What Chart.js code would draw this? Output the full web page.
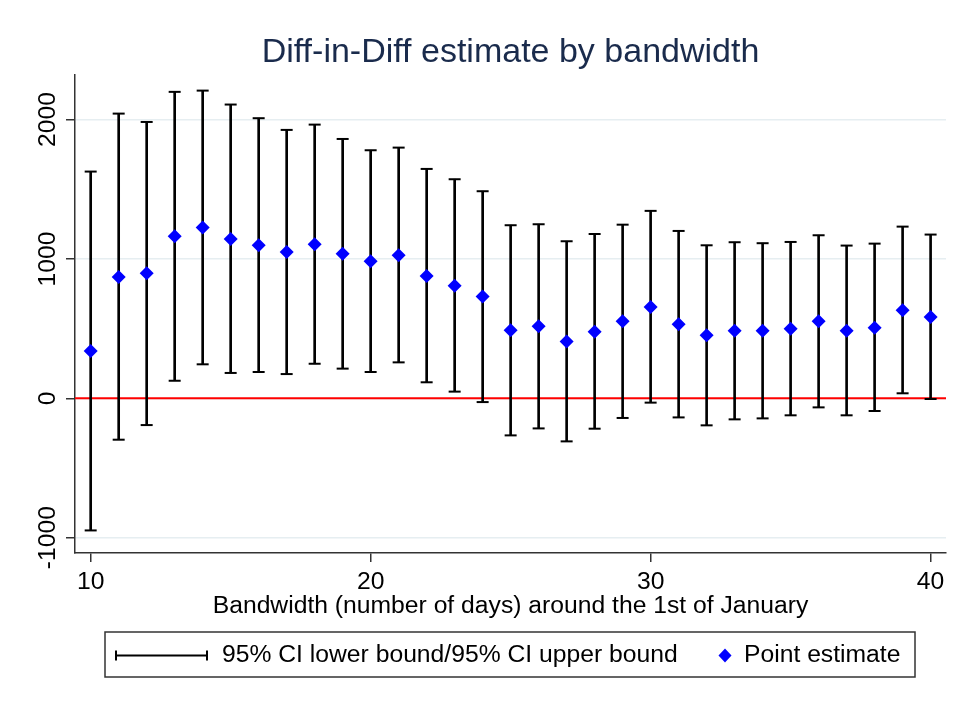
<!DOCTYPE html>
<html>
<head>
<meta charset="utf-8">
<style>
  html, body { margin: 0; padding: 0; background: #ffffff; }
  #wrap { width: 956px; height: 702px; }
</style>
<script src="https://cdn.jsdelivr.net/npm/chart.js@4.4.1/dist/chart.umd.min.js"></script>
</head>
<body>
<div id="wrap"><canvas id="didChart"></canvas></div>
<script>
const bandwidth = [10, 11, 12, 13, 14, 15, 16, 17, 18, 19, 20, 21, 22, 23, 24, 25,
    26, 27, 28, 29, 30, 31, 32, 33, 34, 35, 36, 37, 38, 39, 40];
const estimate = [340, 871, 897, 1163, 1225, 1144, 1098, 1050, 1105, 1038, 983, 1026,
    878, 808, 730, 488, 517, 407, 478, 553, 655, 531, 452, 485, 485, 500, 553, 485, 507, 632, 584];
const ciLower = [-948, -297, -192, 126, 244, 182, 189, 174, 248, 213, 189, 258, 115,
    48, -27, -266, -216, -309, -218, -141, -31, -137, -194, -151, -144, -122, -65, -122, -91, 36, -5];
const ciUpper = [1627, 2043, 1983, 2199, 2208, 2108, 2010, 1926, 1964, 1861, 1780, 1799,
    1646, 1572, 1486, 1242, 1249, 1127, 1179, 1246, 1345, 1201, 1098, 1120, 1113, 1122,
    1170, 1096, 1110, 1232, 1175];
const xTicks = [10, 20, 30, 40];
const yTicks = [-1000, 0, 1000, 2000];
const legendLabels = ['95% CI lower bound/95% CI upper bound', 'Point estimate'];
const titleText = 'Diff-in-Diff estimate by bandwidth';
const xTitleText = 'Bandwidth (number of days) around the 1st of January';

const FONT = '"Liberation Sans", Arial, sans-serif';
const TEXT_SIZE = 24.7;

// red reference line at zero, under the marks
const zeroLine = {
    id: 'zeroLine',
    beforeDatasetsDraw(chart) {
        const { ctx, chartArea, scales } = chart;
        const y0 = scales.y.getPixelForValue(0);
        ctx.save();
        ctx.strokeStyle = '#ff0000';
        ctx.lineWidth = 2;
        ctx.beginPath();
        ctx.moveTo(chartArea.left, y0);
        ctx.lineTo(chartArea.right, y0);
        ctx.stroke();
        ctx.restore();
    }
};

// vertical y tick labels, x axis title and the boxed legend (Stata look)
const stataText = {
    id: 'stataText',
    afterDraw(chart) {
        const { ctx, chartArea, scales } = chart;
        ctx.save();
        ctx.fillStyle = '#000000';
        ctx.font = TEXT_SIZE + 'px ' + FONT;

        ctx.textAlign = 'center';
        ctx.textBaseline = 'alphabetic';
        scales.y.ticks.forEach(t => {
            const py = scales.y.getPixelForValue(t.value);
            ctx.save();
            ctx.translate(chartArea.left - 20, py);
            ctx.rotate(-Math.PI / 2);
            ctx.fillText(String(t.value), 0, 0);
            ctx.restore();
        });

        const cx = (chartArea.left + chartArea.right) / 2;
        ctx.fillText(xTitleText, cx, chartArea.bottom + 60);

        // legend box
        const boxL = 105, boxT = 632, boxW = 810, boxH = 45;
        const midY = boxT + boxH / 2 + 1;
        ctx.strokeStyle = '#333333';
        ctx.lineWidth = 1.5;
        ctx.strokeRect(boxL, boxT, boxW, boxH);

        ctx.strokeStyle = '#000000';
        ctx.lineWidth = 2;
        ctx.beginPath();
        ctx.moveTo(115, midY);
        ctx.lineTo(208, midY);
        ctx.moveTo(116, midY - 5);
        ctx.lineTo(116, midY + 5);
        ctx.moveTo(207, midY - 5);
        ctx.lineTo(207, midY + 5);
        ctx.stroke();

        ctx.textAlign = 'left';
        ctx.textBaseline = 'middle';
        ctx.fillText(legendLabels[0], 222, midY);

        ctx.fillStyle = '#0000ff';
        ctx.beginPath();
        ctx.moveTo(725, midY - 7);
        ctx.lineTo(731.5, midY);
        ctx.lineTo(725, midY + 7);
        ctx.lineTo(718.5, midY);
        ctx.closePath();
        ctx.fill();

        ctx.fillStyle = '#000000';
        ctx.fillText(legendLabels[1], 744, midY);
        ctx.restore();
    }
};

const ctx = document.getElementById('didChart').getContext('2d');
new Chart(ctx, {
    type: 'scatter',
    data: {
        datasets: [{
            type: 'bar',
            label: 'CI',
            data: bandwidth.map((b, i) => ({ x: b, y: [ciLower[i], ciUpper[i]] })),
            backgroundColor: '#000000',
            borderWidth: 0,
            barThickness: 2,
            order: 3
        }, {
            label: 'CI caps',
            data: bandwidth.map((b, i) => ({ x: b, y: ciLower[i] }))
                .concat(bandwidth.map((b, i) => ({ x: b, y: ciUpper[i] }))),
            pointStyle: 'line',
            pointRadius: 6,
            borderColor: '#000000',
            borderWidth: 2,
            order: 2
        }, {
            label: 'Point estimate',
            data: bandwidth.map((b, i) => ({ x: b, y: estimate[i] })),
            pointStyle: 'rectRot',
            pointRadius: 7,
            backgroundColor: '#0000ff',
            borderWidth: 0,
            order: 1
        }]
    },
    options: {
        responsive: true,
        maintainAspectRatio: false,
        animation: false,
        events: [],
        layout: {
            padding: { left: 0, right: 10, top: 0, bottom: 0 }
        },
        plugins: {
            legend: { display: false },
            tooltip: { enabled: false },
            title: {
                display: true,
                fullSize: false,
                text: titleText,
                color: '#1a2b4c',
                font: { family: FONT, size: 34, weight: 'normal' },
                padding: { top: 32.5, bottom: 1.7 }
            }
        },
        scales: {
            x: {
                type: 'linear',
                min: 9.44,
                max: 40.55,
                offset: false,
                afterBuildTicks(scale) {
                    scale.ticks = xTicks.map(v => ({ value: v }));
                },
                afterFit(scale) {
                    scale.height = 149;
                },
                grid: {
                    offset: false,
                    drawOnChartArea: false,
                    tickLength: 9,
                    tickColor: '#333333',
                    lineWidth: 1.5
                },
                border: { display: true, color: '#333333', width: 1.5 },
                ticks: {
                    color: '#000000',
                    padding: 5,
                    font: { family: FONT, size: TEXT_SIZE }
                }
            },
            y: {
                min: -1110,
                max: 2320,
                afterBuildTicks(scale) {
                    scale.ticks = yTicks.map(v => ({ value: v }));
                },
                afterFit(scale) {
                    scale.width = 75;
                },
                grid: {
                    color: '#e6eef1',
                    lineWidth: 1.5,
                    tickLength: 9,
                    tickColor: '#333333'
                },
                border: { display: true, color: '#333333', width: 1.5 },
                ticks: { display: false }
            }
        }
    },
    plugins: [zeroLine, stataText]
});
</script>
</body>
</html>
